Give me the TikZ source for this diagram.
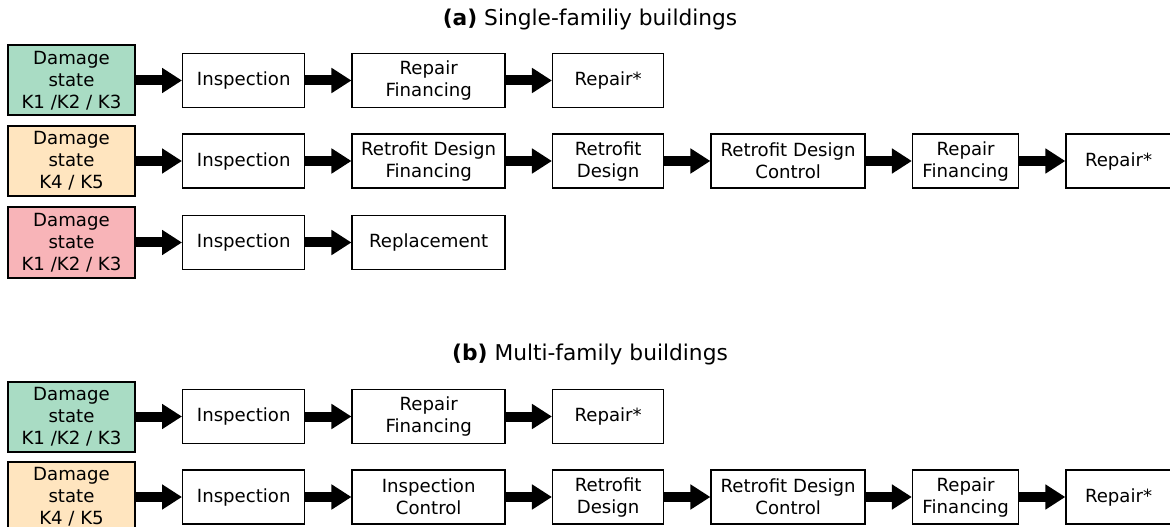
\documentclass[tikz,border=0pt]{standalone}
\usepackage{fontspec}
\setmainfont{DejaVu Sans}
\usetikzlibrary{positioning,arrows.meta}

\definecolor{stategreen}{HTML}{A9DCC4}
\definecolor{stateorange}{HTML}{FFE5BF}
\definecolor{statered}{HTML}{F8B4B8}

\begin{document}
\begin{tikzpicture}[
			x=0.75pt, y=-0.75pt,
			font=\fontsize{13.6}{16.5}\selectfont,
			state/.style={
					rectangle, draw, line width=1.5pt, align=center,
					minimum width=127*0.75pt, minimum height=70*0.75pt, inner sep=0pt
				},
			task/.style={
					rectangle, draw, line width=1.1pt, fill=white, align=center,
					minimum height=54*0.75pt, inner sep=0pt
				},
			boxw/.style={minimum width=#1*0.75pt},
			flow/.style={-{Triangle[length=15pt,width=18pt]}, line width=7.5pt},
			heading/.style={font=\fontsize{16.3}{19}\selectfont},
			node distance=34.5pt
		]
		\useasboundingbox (0,0) rectangle (1170,527);

		% (a) single-family
		\node[heading] (atitle) at (590,19.5) {\textbf{(a)} Single-familiy buildings};

		\node[state, fill=stategreen] (a1state) at (71.5,80.5) {Damage\\state\\K1 /K2 / K3};
		\node[task, boxw=122, right=of a1state] (a1insp) {Inspection};
		\node[task, boxw=153, right=of a1insp] (a1fin) {Repair\\Financing};
		\node[task, boxw=111, right=of a1fin] (a1rep) {Repair*};

		\node[state, fill=stateorange] (a2state) at (71.5,161) {Damage\\state\\K4 / K5};
		\node[task, boxw=122, right=of a2state] (a2insp) {Inspection};
		\node[task, boxw=153, right=of a2insp] (a2rdf) {Retrofit Design\\Financing};
		\node[task, boxw=111, right=of a2rdf] (a2rd) {Retrofit\\Design};
		\node[task, boxw=154, right=of a2rd] (a2rdc) {Retrofit Design\\Control};
		\node[task, boxw=106, right=of a2rdc] (a2fin) {Repair\\Financing};
		\node[task, boxw=105, right=of a2fin] (a2rep) {Repair*};

		\node[state, fill=statered] (a3state) at (71.5,242.5) {Damage\\state\\K1 /K2 / K3};
		\node[task, boxw=122, right=of a3state] (a3insp) {Inspection};
		\node[task, boxw=153, right=of a3insp] (a3repl) {Replacement};

		% (b) multi-family
		\node[heading] (btitle) at (590,355) {\textbf{(b)} Multi-family buildings};

		\node[state, fill=stategreen] (b1state) at (71.5,416.5) {Damage\\state\\K1 /K2 / K3};
		\node[task, boxw=122, right=of b1state] (b1insp) {Inspection};
		\node[task, boxw=153, right=of b1insp] (b1fin) {Repair\\Financing};
		\node[task, boxw=111, right=of b1fin] (b1rep) {Repair*};

		\node[state, fill=stateorange] (b2state) at (71.5,497) {Damage\\state\\K4 / K5};
		\node[task, boxw=122, right=of b2state] (b2insp) {Inspection};
		\node[task, boxw=153, right=of b2insp] (b2ic) {Inspection\\Control};
		\node[task, boxw=111, right=of b2ic] (b2rd) {Retrofit\\Design};
		\node[task, boxw=154, right=of b2rd] (b2rdc) {Retrofit Design\\Control};
		\node[task, boxw=106, right=of b2rdc] (b2fin) {Repair\\Financing};
		\node[task, boxw=105, right=of b2fin] (b2rep) {Repair*};

		% block arrows between the steps
		\foreach \a/\b in {a1state/a1insp, a1insp/a1fin, a1fin/a1rep,
				a2state/a2insp, a2insp/a2rdf, a2rdf/a2rd, a2rd/a2rdc, a2rdc/a2fin, a2fin/a2rep,
				a3state/a3insp, a3insp/a3repl,
				b1state/b1insp, b1insp/b1fin, b1fin/b1rep,
				b2state/b2insp, b2insp/b2ic, b2ic/b2rd, b2rd/b2rdc, b2rdc/b2fin, b2fin/b2rep}
			\draw[flow] (\a.east) -- (\b.west);

	\end{tikzpicture}
\end{document}
